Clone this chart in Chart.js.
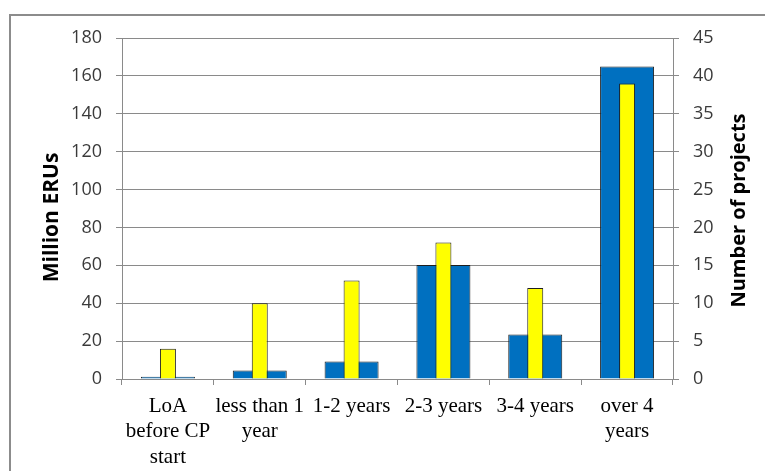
<!DOCTYPE html>
<html>
<head>
<meta charset="utf-8">
<script src="https://cdn.jsdelivr.net/npm/chart.js@4/dist/chart.umd.min.js"></script>
<style>
  html, body { margin: 0; padding: 0; background: #fff; }
  canvas { display: block; }
</style>
</head>
<body>
<canvas id="chart" width="765" height="471"></canvas>
<script>
// Time between Letter of Approval and the start of crediting
const categories = [
  ["LoA", "before CP", "start"],
  ["less than 1", "year"],
  ["1-2 years"],
  ["2-3 years"],
  ["3-4 years"],
  ["over 4", "years"]
];
// Left axis: expected ERUs (millions)
const eruMillions = [1.2, 4.5, 9.3, 60.2, 23.5, 165];
// Right axis: number of projects
const projectCounts = [4, 10, 13, 18, 12, 39];

const leftTicks = [0, 20, 40, 60, 80, 100, 120, 140, 160, 180];
const rightTicks = [0, 5, 10, 15, 20, 25, 30, 35, 40, 45];

const leftTitle = "Million ERUs";
const rightTitle = "Number of projects";

const GRID = '#8a8a8a';
const TICK_FONT = { family: '"Open Sans", "Noto Sans", sans-serif', size: 18 };

// White page with the grey frame around the chart
const framePlugin = {
  id: 'frame',
  beforeDraw(chart) {
    const ctx = chart.ctx;
    ctx.save();
    ctx.fillStyle = '#ffffff';
    ctx.fillRect(0, 0, chart.width, chart.height);
    ctx.strokeStyle = '#8c8c8c';
    ctx.lineWidth = 2;
    ctx.strokeRect(10, 15, chart.width + 20, chart.height + 20);
    ctx.restore();
  }
};

// Both axis titles read bottom-to-top
const axisTitlePlugin = {
  id: 'axisTitles',
  afterDraw(chart) {
    const ctx = chart.ctx;
    const area = chart.chartArea;
    const cy = (area.top + area.bottom) / 2;
    ctx.save();
    ctx.fillStyle = '#000';
    ctx.textAlign = 'center';
    ctx.textBaseline = 'middle';
    [[52, cy + 9, 21, leftTitle], [739, cy + 2, 20, rightTitle]].forEach(([x, y, size, text]) => {
      ctx.save();
      ctx.font = 'bold ' + size + 'px "Open Sans", "Noto Sans", sans-serif';
      ctx.translate(x, y);
      ctx.rotate(-Math.PI / 2);
      ctx.fillText(text, 0, 0);
      ctx.restore();
    });
    ctx.restore();
  }
};

new Chart(document.getElementById('chart'), {
  type: 'bar',
  data: {
    labels: categories,
    datasets: [
      {
        label: rightTitle,
        data: projectCounts,
        yAxisID: 'yR',
        backgroundColor: '#FFFF00',
        borderColor: '#1e1e1e',
        borderWidth: 1,
        categoryPercentage: 1,
        barPercentage: 0.174,
        order: 0
      },
      {
        label: leftTitle,
        data: eruMillions,
        yAxisID: 'yL',
        backgroundColor: '#0070C0',
        borderColor: '#1e1e1e',
        borderWidth: 1,
        categoryPercentage: 1,
        barPercentage: 0.588,
        order: 1
      }
    ]
  },
  options: {
    responsive: false,
    animation: false,
    devicePixelRatio: 1,
    layout: { padding: { top: 38, left: 0, right: 0, bottom: 0 } },
    datasets: { bar: { grouped: false } },
    plugins: { legend: { display: false }, tooltip: { enabled: false }, title: { display: false } },
    scales: {
      x: {
        grid: { offset: true, drawOnChartArea: false, drawTicks: true, tickLength: 6, color: GRID },
        border: { display: true, color: GRID, width: 1 },
        ticks: {
          font: { family: '"Liberation Serif", "Times New Roman", serif', size: 21 },
          color: '#000',
          padding: 9,
          maxRotation: 0,
          autoSkip: false
        },
        afterFit(scale) { scale.height = 92; }
      },
      yL: {
        position: 'left',
        min: 0,
        max: 180,
        afterBuildTicks(scale) { scale.ticks = leftTicks.map(v => ({ value: v })); },
        grid: { color: GRID, tickLength: 6, drawTicks: true },
        border: { display: true, color: GRID, width: 1 },
        ticks: { font: TICK_FONT, color: '#3a3a3a', padding: 14 },
        afterFit(scale) { scale.width = 122; }
      },
      yR: {
        position: 'right',
        min: 0,
        max: 45,
        afterBuildTicks(scale) { scale.ticks = rightTicks.map(v => ({ value: v })); },
        grid: { drawOnChartArea: false, color: GRID, tickLength: 6, drawTicks: true },
        border: { display: true, color: GRID, width: 1 },
        ticks: { font: TICK_FONT, color: '#3a3a3a', padding: 14 },
        afterFit(scale) { scale.width = 92; }
      }
    }
  },
  plugins: [framePlugin, axisTitlePlugin]
});
</script>
</body>
</html>
